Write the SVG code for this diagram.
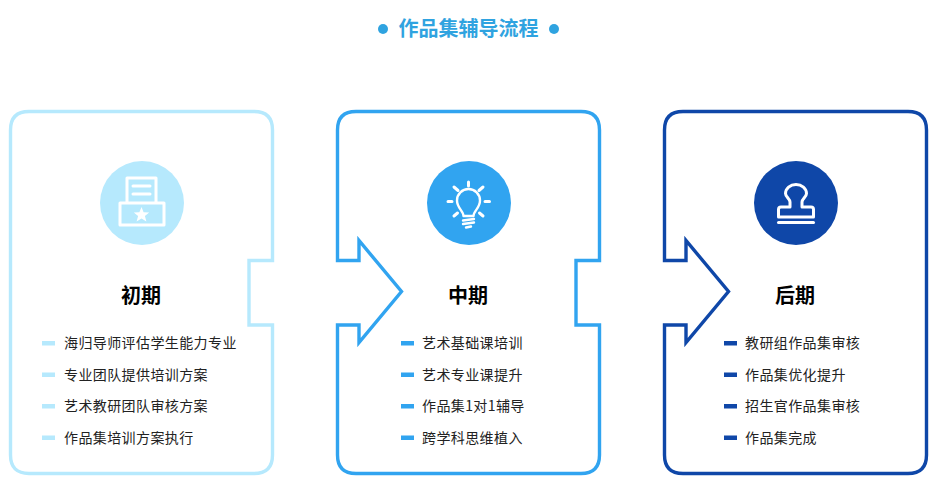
<svg xmlns="http://www.w3.org/2000/svg" width="937" height="484" viewBox="0 0 937 484">
<style>
text{font-family:"Noto Sans CJK SC","Liberation Sans",sans-serif}
.frame{fill:none;stroke-width:3.4;stroke-linejoin:miter}
.head{font-size:20px;font-weight:700;fill:#000;text-anchor:middle}
.item{font-size:14px;fill:#222;letter-spacing:.4px}
.ic{fill:none;stroke:#fff;stroke-width:3;stroke-linecap:round;stroke-linejoin:round}
.c1{stroke:#b6e9fd}.f1{fill:#b6e9fd}
.c2{stroke:#31a4f0}.f2{fill:#31a4f0}
.c3{stroke:#0f47a8}.f3{fill:#0f47a8}
</style>
<rect width="937" height="484" fill="#fff"/>
<g id="title">
<circle cx="383" cy="29" r="5" fill="#2fa3e0"/>
<circle cx="554" cy="29" r="5" fill="#2fa3e0"/>
<text x="468.500" y="36" font-size="20" font-weight="700" fill="#2fa3e0" text-anchor="middle">作品集辅导流程</text>
</g>
<g id="stage-early">
<path class="frame c1" d="M29 111.500H254Q272.500 111.500 272.500 130V260.500H249V325H272.500V455Q272.500 473.500 254 473.500H29Q10.500 473.500 10.500 455V130Q10.500 111.500 29 111.500Z"/>
<circle class="f1" cx="142" cy="203" r="42"/>
<g class="ic">
<path d="M127 202V178H156V202"/>
<rect x="120" y="203" width="44" height="22"/>
<path d="M133 186H150M133 194H150"/>
</g>
<path fill="#fff" d="M141.500 207l2.100 5.200 5.600.3-4.300 3.500 1.500 5.400-4.900-3-4.900 3 1.500-5.400-4.300-3.500 5.600-.3z"/>
<text class="head" x="141" y="303">初期</text>
<g class="f1"><rect x="42" y="341" width="13" height="4.500"/><rect x="42" y="372.500" width="13" height="4.500"/><rect x="42" y="404" width="13" height="4.500"/><rect x="42" y="435.500" width="13" height="4.500"/></g>
<text class="item" x="64" y="348">海归导师评估学生能力专业</text>
<text class="item" x="64" y="379.500">专业团队提供培训方案</text>
<text class="item" x="64" y="411">艺术教研团队审核方案</text>
<text class="item" x="64" y="442.500">作品集培训方案执行</text>
</g>
<g id="stage-middle">
<path class="frame c2" d="M356 111.500H581Q599.500 111.500 599.500 130V260.500H576V325H599.500V455Q599.500 473.500 581 473.500H356Q337.500 473.500 337.500 455V325H359V342.500L401.500 291.500L359 240.500V260.500H337.500V130Q337.500 111.500 356 111.500Z"/>
<circle class="f2" cx="469" cy="203" r="42"/>
<g class="ic">
<path d="M463.500 216C463.500 211 457 208 457 200.500A11.500 11.500 0 0 1 480 200.500C480 208 473.500 211 473.500 216Z" stroke-width="2.400"/>
<path d="M463 220.500L474 219M463 224L474 222.500M466 227.500L471 226.500" stroke-width="2.400"/>
<path d="M468.500 182V186M454 187L458 190.500M483 187L479 190.500M448 201.500H452M485 201.500H489.500M454 216L457.500 213M483 216L479.500 213"/>
</g>
<text class="head" x="468" y="303">中期</text>
<g class="f2"><rect x="401" y="341" width="13" height="4.500"/><rect x="401" y="372.500" width="13" height="4.500"/><rect x="401" y="404" width="13" height="4.500"/><rect x="401" y="435.500" width="13" height="4.500"/></g>
<text class="item" x="422" y="348">艺术基础课培训</text>
<text class="item" x="422" y="379.500">艺术专业课提升</text>
<text class="item" x="422" y="411">作品集1对1辅导</text>
<text class="item" x="422" y="442.500">跨学科思维植入</text>
</g>
<g id="stage-late">
<path class="frame c3" d="M683 111.500H908Q926.500 111.500 926.500 130V455Q926.500 473.500 908 473.500H683Q664.500 473.500 664.500 455V325H686V342.500L728.500 291.500L686 240.500V260.500H664.500V130Q664.500 111.500 683 111.500Z"/>
<circle class="f3" cx="796" cy="203" r="42"/>
<g class="ic">
<path d="M790 207V202C790 199 785.500 197 785.500 193.500A10.500 9 0 0 1 806.500 193.500C806.500 197 802 199 802 202V207H811Q813.500 207 813.500 209.500V217H778.500V209.500Q778.500 207 781 207Z"/>
<path d="M778.500 222.500H813.500"/>
</g>
<text class="head" x="795" y="303">后期</text>
<g class="f3"><rect x="724" y="341" width="13" height="4.500"/><rect x="724" y="372.500" width="13" height="4.500"/><rect x="724" y="404" width="13" height="4.500"/><rect x="724" y="435.500" width="13" height="4.500"/></g>
<text class="item" x="745" y="348">教研组作品集审核</text>
<text class="item" x="745" y="379.500">作品集优化提升</text>
<text class="item" x="745" y="411">招生官作品集审核</text>
<text class="item" x="745" y="442.500">作品集完成</text>
</g>
</svg>
